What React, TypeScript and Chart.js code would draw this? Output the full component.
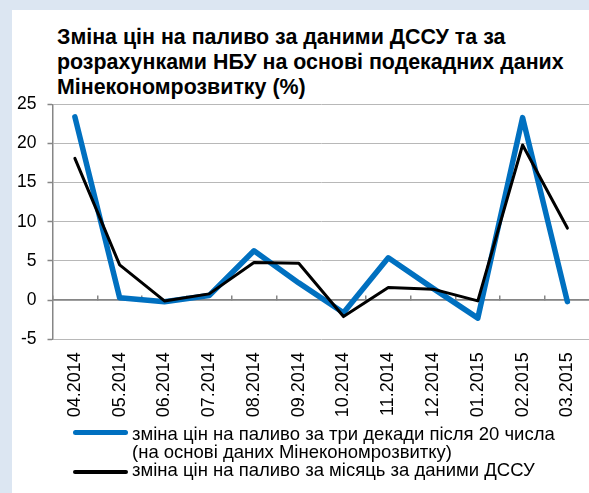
import React, { useEffect, useRef } from "react";
import { Chart, registerables } from "chart.js";

Chart.register(...registerables);

const categories = [
  "04.2014", "05.2014", "06.2014", "07.2014", "08.2014", "09.2014",
  "10.2014", "11.2014", "12.2014", "01.2015", "02.2015", "03.2015",
];
const mineconomValues = [23.4, 0.3, -0.2, 0.6, 6.3, 2.2, -1.6, 5.4, 1.5, -2.3, 23.3, -0.2];
const dssuValues = [18.1, 4.5, -0.1, 0.8, 4.8, 4.7, -2.1, 1.6, 1.4, -0.1, 19.8, 9.2];
const yMin = -5;
const yMax = 25;
const yStep = 5;

const titleLines = [
  "Зміна цін на паливо за даними ДССУ та за",
  "розрахунками НБУ на основі подекадних даних",
  "Мінекономрозвитку (%)",
];
const legendBlueLines = [
  "зміна цін на паливо за три декади після 20 числа",
  "(на основі даних Мінекономрозвитку)",
];
const legendBlack = "зміна цін на паливо за місяць за даними ДССУ";

const FONT = "'Liberation Sans', Arial, sans-serif";
const BLUE = "#0070c0";
const AXIS = "#868686";
const GRID = "#b8b8b8";

export default function App() {
  const ref = useRef<HTMLCanvasElement>(null);

  useEffect(() => {
    if (!ref.current) return;
    const chart = new Chart(ref.current, {
      type: "line",
      data: {
        labels: categories,
        datasets: [
          {
            label: legendBlack,
            data: dssuValues,
            borderColor: "#000000",
            backgroundColor: "#000000",
            borderWidth: 3,
            pointRadius: 0,
            tension: 0,
            borderJoinStyle: "round",
            borderCapStyle: "round",
            order: 0,
          },
          {
            label: legendBlueLines.join(" "),
            data: mineconomValues,
            borderColor: BLUE,
            backgroundColor: BLUE,
            borderWidth: 5.5,
            pointRadius: 0,
            tension: 0,
            borderJoinStyle: "round",
            borderCapStyle: "round",
            order: 1,
          },
        ],
      },
      options: {
        animation: false,
        responsive: false,
        devicePixelRatio: 1,
        layout: { padding: { top: 104.3, right: 0.7, bottom: 0, left: 0 } },
        plugins: {
          legend: { display: false },
          title: { display: false },
          tooltip: { enabled: false },
        },
        scales: {
          y: {
            type: "linear",
            position: "left",
            min: yMin,
            max: yMax,
            ticks: {
              stepSize: yStep,
              padding: 11,
              color: "#000000",
              font: { family: FONT, size: 17.5 },
            },
            grid: {
              display: true,
              drawOnChartArea: true,
              drawTicks: true,
              color: GRID,
              tickColor: AXIS,
              tickLength: 5,
              tickWidth: 1.5,
              lineWidth: 1,
            },
            border: { display: true, color: AXIS, width: 1.5 },
            afterFit: (s: any) => {
              s.width = 52.5;
            },
          },
          x: {
            type: "category",
            position: "bottom",
            offset: true,
            grid: { display: false, drawTicks: false },
            border: { display: false },
            ticks: {
              autoSkip: false,
              maxRotation: 90,
              minRotation: 90,
              padding: 13,
              color: "#000000",
              font: { family: FONT, size: 18 },
            },
            afterFit: (s: any) => {
              s.height = 153.7;
            },
          },
          x0: {
            type: "category",
            position: { y: 0 } as any,
            offset: true,
            grid: {
              display: true,
              offset: true,
              drawOnChartArea: false,
              drawTicks: true,
              tickLength: -5,
              color: AXIS,
              tickColor: AXIS,
              lineWidth: 1.5,
            },
            border: { display: true, color: AXIS, width: 1.5 },
            ticks: { display: false },
          },
        },
      },
    });
    return () => chart.destroy();
  }, []);

  return (
    <div
      style={{
        position: "fixed",
        left: 0,
        top: 0,
        width: 589,
        height: 493,
        overflow: "hidden",
        background: "#dce6f2",
        fontFamily: FONT,
      }}
    >
      <div
        style={{
          position: "absolute",
          left: 12,
          top: 10,
          right: 0,
          bottom: 0,
          background: "#ffffff",
        }}
      />
      <div
        style={{
          position: "absolute",
          left: 57,
          top: 25,
          fontSize: 21.4,
          lineHeight: "25px",
          fontWeight: "bold",
          color: "#000000",
          whiteSpace: "nowrap",
        }}
      >
        {titleLines.map((t, i) => (
          <div key={i}>{t}</div>
        ))}
      </div>
      <canvas
        ref={ref}
        width={602}
        height={493}
        style={{ position: "absolute", left: 0, top: 0, width: 602, height: 493 }}
      />
      <div
        style={{
          position: "absolute",
          left: 73,
          top: 429.5,
          width: 55,
          height: 5,
          borderRadius: 2.5,
          background: BLUE,
        }}
      />
      <div
        style={{
          position: "absolute",
          left: 73,
          top: 470,
          width: 55,
          height: 4,
          borderRadius: 2,
          background: "#000000",
        }}
      />
      <div
        style={{
          position: "absolute",
          left: 132,
          top: 424.5,
          fontSize: 18.5,
          lineHeight: "18.3px",
          color: "#000000",
          whiteSpace: "nowrap",
        }}
      >
        {legendBlueLines.map((t, i) => (
          <div key={i}>{t}</div>
        ))}
        <div>{legendBlack}</div>
      </div>
    </div>
  );
}
